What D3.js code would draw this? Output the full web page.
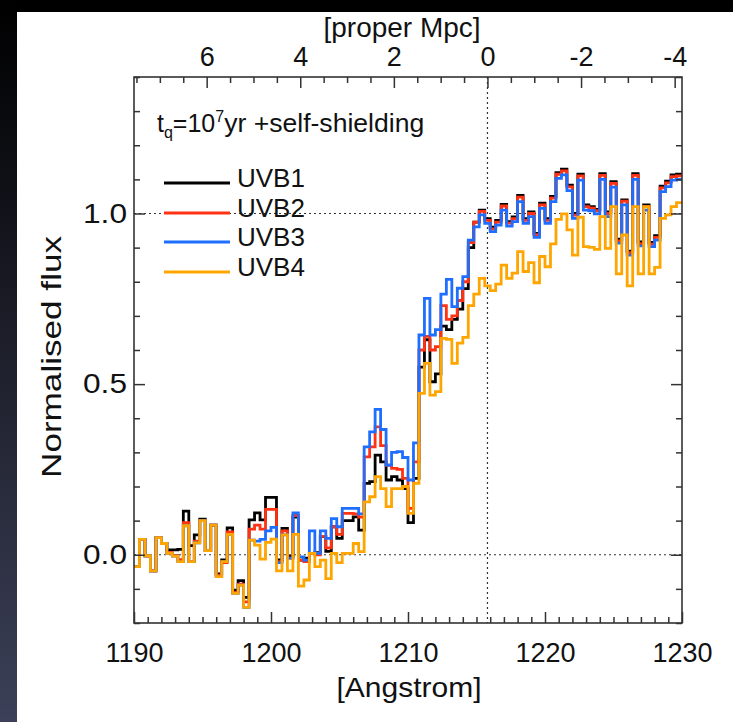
<!DOCTYPE html>
<html>
<head>
<meta charset="utf-8">
<script src="https://cdn.jsdelivr.net/npm/d3@7"></script>
<style>
html, body { margin: 0; padding: 0; background: #000; }
svg { display: block; }
text { font-family: "Liberation Sans", Arial, Helvetica, sans-serif; fill: #111; }
</style>
</head>
<body>
<div id="chart"></div>
<script>
// spectrum bins (Angstrom), one value per bin
var binStart = 1190, binWidth = 0.4;

var uvb1 = [-0.035,0.045,-0.003,-0.047,0.05,0.033,0.014,0.014,0.016,0.128,
  0.027,0.058,0.104,0.012,0.087,-0.056,-0.015,0.079,-0.104,-0.076,
  -0.125,0.102,0.123,0.102,0.168,0.168,-0.015,0.077,-0.005,0.11,
  -0.016,-0.01,0.004,0.006,0.053,0.01,0.082,0.048,0.1,0.1,
  0.111,0.072,0.209,0.214,0.292,0.272,0.219,0.229,0.219,0.194,
  0.094,0.224,0.55,0.63,0.507,0.53,0.67,0.66,0.69,0.72,
  0.78,0.90,0.975,1.01,0.985,0.96,0.98,1.027,0.976,0.99,
  1.053,0.985,1.005,0.942,1.03,0.985,1.05,1.12,1.13,1.083,
  1.0,1.115,1.025,1.02,1.012,1.117,1.005,1.093,0.925,1.04,
  0.89,1.117,0.917,1.025,0.915,0.935,1.08,1.095,1.113,1.115];

var uvb2 = [-0.035,0.045,-0.003,-0.047,0.05,0.033,0.006,-0.002,-0.014,0.094,
  -0.02,0.04,0.10,0.012,0.087,-0.06,-0.023,0.067,-0.11,-0.086,
  -0.138,0.075,0.087,0.075,0.133,0.133,-0.02,0.07,-0.01,0.115,
  -0.016,-0.02,0.004,0.0,0.054,0.02,0.082,0.06,0.121,0.121,
  0.12,0.11,0.287,0.316,0.375,0.32,0.262,0.253,0.25,0.224,
  0.136,0.272,0.60,0.64,0.60,0.61,0.73,0.69,0.70,0.745,
  0.80,0.915,0.975,1.006,0.98,0.955,0.975,1.022,0.972,0.985,
  1.048,0.98,1.0,0.938,1.025,0.98,1.045,1.115,1.125,1.078,
  0.995,1.11,1.02,1.016,1.008,1.112,1.0,1.088,0.92,1.036,
  0.885,1.112,0.912,1.02,0.91,0.93,1.075,1.09,1.108,1.11];

var uvb3 = [-0.035,0.045,-0.003,-0.047,0.05,0.033,0.004,-0.004,-0.02,0.085,
  -0.02,0.035,0.10,0.012,0.087,-0.064,-0.02,0.06,-0.113,-0.089,
  -0.154,0.043,0.04,0.045,0.07,0.08,-0.023,0.058,-0.01,0.123,
  -0.006,-0.016,0.07,0.004,0.07,0.048,0.106,0.082,0.136,0.136,
  0.136,0.12,0.316,0.36,0.426,0.367,0.263,0.30,0.302,0.285,
  0.219,0.328,0.644,0.751,0.644,0.66,0.764,0.807,0.727,0.781,
  0.815,0.922,0.961,0.996,0.971,0.947,0.966,1.010,0.963,0.976,
  1.035,0.971,0.991,0.930,1.015,0.971,1.035,1.103,1.113,1.067,
  0.986,1.098,1.010,1.008,0.999,1.100,0.991,1.077,0.913,1.025,
  0.878,1.100,0.905,1.010,0.903,0.922,1.064,1.079,1.098,1.100];

var uvb4 = [-0.035,0.045,-0.003,-0.047,0.05,0.033,0.004,-0.004,-0.02,0.085,
  -0.02,0.035,0.10,0.012,0.087,-0.064,-0.02,0.06,-0.113,-0.089,
  -0.154,0.043,0.028,-0.013,0.036,0.046,-0.047,0.058,-0.047,0.06,
  -0.092,-0.074,0.004,-0.035,-0.016,-0.07,0.004,-0.023,0.004,0.004,
  0.033,0.009,0.155,0.17,0.229,0.194,0.141,0.194,0.194,0.2,
  0.121,0.209,0.473,0.561,0.468,0.478,0.634,0.631,0.561,0.62,
  0.637,0.730,0.764,0.810,0.788,0.774,0.793,0.849,0.810,0.825,
  0.888,0.830,0.856,0.797,0.874,0.844,0.911,0.983,0.999,0.952,
  0.878,0.989,0.903,0.901,0.895,0.991,0.898,1.020,0.823,0.937,
  0.788,1.020,0.823,1.020,0.823,0.842,0.986,0.996,1.020,1.032];

var seriesNames = ['UVB1', 'UVB2', 'UVB3', 'UVB4'];
var seriesColours = ['#000000', '#ff3214', '#1e6eff', '#ffa500'];

var waveTicks = [1190, 1200, 1210, 1220, 1230];
var fluxTicks = [0.0, 0.5, 1.0];
var mpcTicks = [6, 4, 2, 0, -2, -4];

var lyaWave = 1215.8, angPerMpc = 3.416;

var W = 733, H = 722;
var plotL = 134, plotR = 682, plotT = 77, plotB = 623;

var svg = d3.select('#chart').append('svg').attr('width', W).attr('height', H);

// dark slide background + white panel
var defs = svg.append('defs');
var grad = defs.append('linearGradient')
  .attr('id', 'side').attr('x1', 0).attr('y1', 0).attr('x2', 0).attr('y2', 1);
grad.append('stop').attr('offset', '0%').attr('stop-color', '#000');
grad.append('stop').attr('offset', '100%').attr('stop-color', '#3c4058');
svg.append('rect').attr('width', W).attr('height', H).attr('fill', '#000');
svg.append('rect').attr('x', 0).attr('y', 0).attr('width', 17).attr('height', H).attr('fill', 'url(#side)');
svg.append('rect').attr('x', 17).attr('y', 12).attr('width', W - 17).attr('height', H - 12).attr('fill', '#fff');

defs.append('clipPath').attr('id', 'plotclip')
  .append('rect').attr('x', plotL).attr('y', plotT).attr('width', plotR - plotL).attr('height', plotB - plotT);

var x = d3.scaleLinear().domain([1190, 1230]).range([plotL, plotR]);
var y = d3.scaleLinear().domain([-0.2, 1.4]).range([plotB, plotT]);
var xMpc = d3.scaleLinear()
  .domain([(lyaWave - 1190) / angPerMpc, (lyaWave - 1230) / angPerMpc])
  .range([plotL, plotR]);

// reference lines
var dots = svg.append('g').attr('stroke', '#333').attr('stroke-width', 1.2).attr('stroke-dasharray', '2,3');
dots.append('line').attr('x1', plotL).attr('x2', plotR).attr('y1', y(1)).attr('y2', y(1));
dots.append('line').attr('x1', plotL).attr('x2', plotR).attr('y1', y(0)).attr('y2', y(0));
dots.append('line').attr('x1', xMpc(0)).attr('x2', xMpc(0)).attr('y1', plotT).attr('y2', plotB);

// step spectra
var allSeries = [uvb1, uvb2, uvb3, uvb4];
var line = d3.line().curve(d3.curveStepAfter)
  .x(function(d) { return x(d[0]); })
  .y(function(d) { return y(d[1]); });

svg.append('g').attr('clip-path', 'url(#plotclip)')
  .selectAll('path')
  .data(allSeries)
  .enter().append('path')
  .attr('d', function(s) {
    var pts = s.map(function(v, i) { return [binStart + i * binWidth, v]; });
    pts.push([binStart + s.length * binWidth, s[s.length - 1]]);
    return line(pts);
  })
  .attr('fill', 'none')
  .attr('stroke', function(d, i) { return seriesColours[i]; })
  .attr('stroke-width', 2.8)
  .attr('stroke-linejoin', 'miter');

// axes
function styleAxis(g) {
  g.select('.domain').remove();
  g.selectAll('line').attr('stroke', '#333').attr('stroke-width', 1.5);
  g.selectAll('text').attr('font-size', 27).attr('fill', '#111')
    .style('font-family', '"Liberation Sans", Arial, Helvetica, sans-serif');
}

var minorWave = d3.range(1191, 1230, 1).filter(function(v) { return v % 10 != 0; });
var minorFlux = d3.range(-0.2, 1.41, 0.1).map(function(v) { return +v.toFixed(1); })
  .filter(function(v) { return fluxTicks.indexOf(v) < 0; });
var minorMpc = d3.range(7.5, -4.1, -0.5).filter(function(v) { return v % 2 != 0; });

svg.append('g').attr('transform', 'translate(0,' + plotB + ')')
  .call(d3.axisBottom(x).tickValues(waveTicks).tickSize(-11).tickPadding(20).tickFormat(d3.format('d')))
  .call(styleAxis);
svg.append('g').attr('transform', 'translate(0,' + plotB + ')')
  .call(d3.axisBottom(x).tickValues(minorWave).tickSize(-6).tickFormat(''))
  .call(styleAxis);

svg.append('g').attr('transform', 'translate(0,' + plotT + ')')
  .call(d3.axisTop(xMpc).tickValues(mpcTicks).tickSize(-11).tickPadding(11)
    .tickFormat(function(d) { return String(d); }))
  .call(styleAxis);
svg.append('g').attr('transform', 'translate(0,' + plotT + ')')
  .call(d3.axisTop(xMpc).tickValues(minorMpc).tickSize(-6).tickFormat(''))
  .call(styleAxis);

svg.append('g').attr('transform', 'translate(' + plotL + ',0)')
  .call(d3.axisLeft(y).tickValues(fluxTicks).tickSize(-11).tickPadding(7).tickFormat(d3.format('.1f')))
  .call(styleAxis)
  .selectAll('text').attr('textLength', 44).attr('lengthAdjust', 'spacingAndGlyphs');
svg.append('g').attr('transform', 'translate(' + plotL + ',0)')
  .call(d3.axisLeft(y).tickValues(minorFlux).tickSize(-6).tickFormat(''))
  .call(styleAxis);
svg.append('g').attr('transform', 'translate(' + plotR + ',0)')
  .call(d3.axisRight(y).tickValues(fluxTicks).tickSize(-11).tickFormat(''))
  .call(styleAxis);
svg.append('g').attr('transform', 'translate(' + plotR + ',0)')
  .call(d3.axisRight(y).tickValues(minorFlux).tickSize(-6).tickFormat(''))
  .call(styleAxis);

// frame
svg.append('rect').attr('x', plotL).attr('y', plotT).attr('width', plotR - plotL).attr('height', plotB - plotT)
  .attr('fill', 'none').attr('stroke', '#333').attr('stroke-width', 1.6);

// axis titles
svg.append('text').attr('x', 409).attr('y', 697).attr('text-anchor', 'middle')
  .attr('font-size', 28).attr('textLength', 145).attr('lengthAdjust', 'spacingAndGlyphs').text('[Angstrom]');
svg.append('text').attr('x', 402).attr('y', 37).attr('text-anchor', 'middle')
  .attr('font-size', 28).attr('textLength', 157).attr('lengthAdjust', 'spacingAndGlyphs').text('[proper Mpc]');
svg.append('text').attr('transform', 'translate(61,357) rotate(-90)').attr('text-anchor', 'middle')
  .attr('font-size', 28).attr('textLength', 242).attr('lengthAdjust', 'spacingAndGlyphs').text('Normalised flux');

// annotation
var note = svg.append('text').attr('x', 157).attr('y', 132).attr('font-size', 25);
note.append('tspan').text('t');
note.append('tspan').attr('font-size', 16).attr('dy', 6).text('q');
note.append('tspan').attr('dy', -6).text('=10');
note.append('tspan').attr('font-size', 16).attr('dy', -10).text('7');
note.append('tspan').attr('dy', 10).attr('textLength', 200).attr('lengthAdjust', 'spacingAndGlyphs')
  .text('yr +self-shielding');

// legend
var legendY = [183, 213, 242, 272];
var legend = svg.append('g').selectAll('g').data(seriesNames).enter().append('g');
legend.append('line')
  .attr('x1', 164).attr('x2', 230)
  .attr('y1', function(d, i) { return legendY[i]; }).attr('y2', function(d, i) { return legendY[i]; })
  .attr('stroke', function(d, i) { return seriesColours[i]; }).attr('stroke-width', 2.8);
legend.append('text')
  .attr('x', 237).attr('y', function(d, i) { return legendY[i] + 4; })
  .attr('font-size', 26).text(function(d) { return d; });
</script>
</body>
</html>
